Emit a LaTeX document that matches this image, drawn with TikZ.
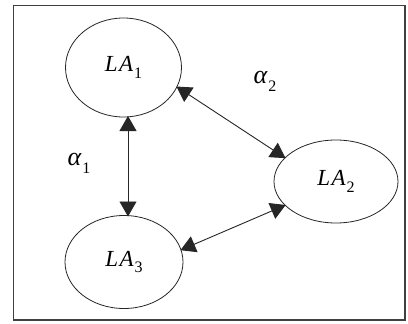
\documentclass[tikz,border=0pt]{standalone}
\usepackage{fontspec}
\setmainfont{Liberation Serif}
\usetikzlibrary{arrows.meta,shapes.geometric}
\newcommand{\lbl}[2]{{\itshape #1}\kern1pt\raisebox{-0.3em}{\fontsize{16}{16}\selectfont #2}}
\begin{document}
\begin{tikzpicture}[x=1pt,y=-1pt,
  la/.style={draw=black!85,line width=0.8pt,ellipse,inner sep=0pt},
  link/.style={draw=black!85,line width=0.9pt,{Triangle[length=15pt,width=17pt]}-{Triangle[length=15pt,width=17pt]},shorten <=-1pt,shorten >=-1pt},
  lab/.style={font=\fontsize{23}{25}\selectfont},
  alab/.style={font=\fontsize{26}{28}\selectfont}]
\useasboundingbox (0,0) rectangle (408,324);
\fill[white] (0,0) rectangle (408,324);
\draw[black!75,line width=1.4pt] (13.5,5.5) rectangle (405,320);
\node[la,minimum width=116pt,minimum height=99pt,lab] (A) at (123.5,67.5) {\lbl{L\kern1.5pt A}{1}};
\node[la,minimum width=124pt,minimum height=83pt,lab] (B) at (336,181.5) {\lbl{L\kern1.5pt A}{2}};
\node[la,minimum width=118pt,minimum height=93pt,lab] (C) at (124,262) {\lbl{L\kern1.5pt A}{3}};
\node[alab] (a1) at (79,163) {\lbl{α}{1}};
\node[alab] (a2) at (265,81) {\lbl{α}{2}};
\coordinate (p1) at (128,117);
\coordinate (p3) at (128,215.5);
\draw[link] (p1) -- (p3);
\draw[link] (A.-20) -- (B.155);
\draw[link] (B.-155) -- (C.12);
\end{tikzpicture}
\end{document}
